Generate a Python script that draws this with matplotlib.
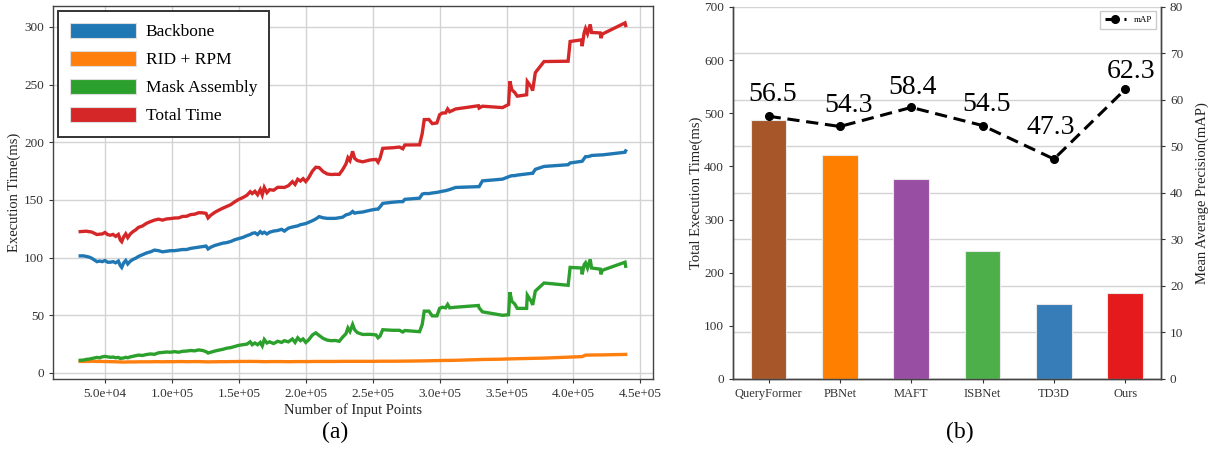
import numpy as np
import matplotlib
matplotlib.use("Agg")
import matplotlib.pyplot as plt
from matplotlib.patches import Patch
from matplotlib.ticker import FuncFormatter, MultipleLocator

plt.rcParams["font.family"] = ["Liberation Serif", "DejaVu Serif"]
plt.rcParams["mathtext.fontset"] = "stix"

# ---------------- (a) per-stage execution time vs. input size ----------------
# number of input points, in thousands
points_k = [
    31.5, 34, 36, 38, 40, 42, 44, 46, 48, 50,
    52, 54, 56, 58, 60, 61.5, 62.5, 64, 65.5, 67,
    69, 71, 73, 75, 78, 81, 84, 87, 90, 93,
    96, 99, 102, 105, 108, 111, 114, 117, 120, 123,
    125.5, 127, 129, 132, 135, 138, 141, 144, 147, 150,
    153, 156, 158.5, 160, 162, 164, 166, 167.5, 169, 171,
    173, 176, 179, 182, 184, 187, 190, 192, 194, 196,
    198, 200, 202, 205, 207.5, 210, 213, 216, 219, 222,
    225, 227.5, 230, 231.5, 233, 235, 236.5, 238.5, 242.5, 248,
    252.5, 254, 255.5, 257.5, 265, 270, 272.5, 274, 285, 287,
    288.5, 292, 294.5, 298, 300, 302, 304.5, 306, 307.5, 312,
    329, 329.5, 332, 347, 351.5, 352.5, 354, 356, 358, 365,
    365.5, 368.5, 369.5, 371.5, 378, 396, 397.5, 406, 406.5, 408,
    409, 410.5, 412.5, 413.5, 420, 420.5, 421.5, 438.5, 439,
]

backbone_ms = [
    101.5, 101.5, 101, 100.5, 99.5, 98, 96.5, 97, 96.5, 97.5,
    96, 96, 96.5, 95.5, 97, 93, 91.5, 95.5, 97.5, 94.5,
    97, 98.5, 99.5, 101, 102.5, 104, 105, 106.5, 106, 105,
    105.5, 106, 106, 106.5, 107, 107, 108, 108.5, 109, 109.5,
    110, 107.5, 109, 110.5, 111.5, 112.5, 113, 114, 115.5, 116.5,
    117.5, 119, 120, 121, 121.5, 120, 122.5, 121, 122, 120.5,
    122, 123, 123.5, 124.5, 123, 125.5, 126.5, 127, 127.5, 128.5,
    129, 129.5, 130.5, 132, 133.5, 135.5, 134.5, 134, 134, 134,
    134.5, 135, 137, 137.5, 138, 140, 138.5, 139, 139.5, 141,
    142, 142, 144, 147, 148, 148.5, 148.5, 150.5, 151.5, 155,
    155.5, 155.5, 156, 156.5, 157, 157.5, 158, 158.5, 159, 160.8,
    161.5, 161.5, 166.5, 168, 170, 170.5, 171, 171, 171.5, 172.5,
    172.5, 173, 173, 176.5, 179, 180.5, 182, 183.5, 183.5, 186,
    187.5, 187.5, 188, 188.5, 189, 189, 189, 191.3, 192.5,
]

rid_rpm_ms = [
    10.0, 10.0, 10.1, 10.0, 10.2, 10.1, 10.0, 10.1, 10.0, 9.9,
    9.9, 9.8, 9.8, 9.7, 9.6, 9.6, 9.5, 9.5, 9.5, 9.6,
    9.6, 9.6, 9.6, 9.7, 9.7, 9.7, 9.7, 9.8, 9.8, 9.7,
    9.8, 9.8, 9.8, 9.9, 9.9, 9.8, 9.8, 9.9, 9.9, 9.8,
    9.8, 9.6, 9.7, 9.7, 9.8, 9.8, 9.8, 9.9, 9.9, 10.0,
    10.0, 10.0, 10.1, 10.0, 10.0, 10.0, 9.9, 9.8, 9.8, 9.8,
    9.9, 9.9, 9.9, 9.9, 9.8, 9.8, 9.8, 9.9, 9.9, 9.9,
    9.9, 9.9, 9.9, 10.0, 10.0, 10.0, 10.0, 10.0, 10.0, 10.0,
    10.1, 10.1, 10.1, 10.1, 10.1, 10.1, 10.1, 10.1, 10.1, 10.1,
    10.1, 10.2, 10.2, 10.2, 10.2, 10.3, 10.3, 10.3, 10.4, 10.5,
    10.5, 10.6, 10.6, 10.7, 10.8, 10.8, 10.9, 10.9, 10.9, 11.0,
    11.6, 11.6, 11.7, 12.0, 12.2, 12.3, 12.3, 12.3, 12.4, 12.6,
    12.6, 12.7, 12.7, 12.8, 12.9, 13.7, 13.8, 14.2, 14.2, 15.0,
    15.5, 15.5, 15.6, 15.6, 15.7, 15.7, 15.7, 16.1, 16.1,
]

mask_assembly_ms = [
    11.0, 11.2, 11.8, 12.0, 12.5, 13.0, 13.5, 13.2, 14.0, 14.4,
    14.0, 13.6, 13.8, 13.2, 13.5, 12.5, 12.8, 13.0, 13.6, 13.2,
    14.0, 14.5, 15.0, 15.5, 15.2, 16.0, 16.5, 16.2, 17.5, 17.8,
    18.2, 18.0, 18.5, 18.0, 18.8, 19.0, 19.5, 19.2, 20.0, 19.5,
    18.5, 17.3, 18.0, 19.0, 19.8, 20.5, 21.5, 22.0, 23.0, 24.0,
    24.5, 25.0, 27.0, 24.5, 26.0, 24.5, 26.5, 23.5, 29.0, 26.0,
    27.0, 25.5, 27.5, 26.5, 28.0, 27.0, 29.5, 26.5, 30.5, 28.0,
    29.5, 26.5, 28.5, 33.0, 34.8, 32.5, 30.0, 28.5, 28.0, 28.2,
    27.5, 31.0, 34.0, 39.0, 36.0, 42.0, 37.5, 35.0, 33.4, 33.5,
    33.0, 30.5, 32.0, 37.5, 37.0, 37.0, 35.5, 36.8, 35.8, 42.0,
    53.6, 53.6, 49.5, 49.5, 56.0, 57.0, 56.5, 59.4, 56.5, 57.0,
    58.5, 56.5, 53.0, 50.0, 50.5, 70.0, 62.0, 60.0, 56.0, 56.0,
    67.5, 62.0, 59.0, 71.0, 78.0, 76.0, 91.5, 91.0, 85.5, 94.0,
    95.5, 91.0, 98.5, 91.0, 90.0, 85.5, 89.0, 96.0, 92.5,
]

stage_names = ["Backbone", "RID + RPM", "Mask Assembly", "Total Time"]
stage_colors = ["#1f77b4", "#ff7f0e", "#2ca02c", "#d62728"]

# ---------------- (b) comparison with other methods ----------------
methods = ["QueryFormer", "PBNet", "MAFT", "ISBNet", "TD3D", "Ours"]
total_time_ms = [487, 421, 377, 240, 141, 161]
map_scores = [56.5, 54.3, 58.4, 54.5, 47.3, 62.3]
method_colors = ["#a65628", "#ff7f00", "#984ea3", "#4daf4a", "#377eb8", "#e41a1c"]

# --------------------------------------------------------------------
x_pts = np.array(points_k) * 1000.0
backbone = np.array(backbone_ms)
rid = np.array(rid_rpm_ms)
mask = np.array(mask_assembly_ms)
total = backbone + rid + mask

fig = plt.figure(figsize=(12.2, 4.5), dpi=100)
fig.patch.set_facecolor("white")

ax1 = fig.add_axes([0.0434, 0.1578, 0.4918, 0.829])
grid_c = "#d3d3d3"
for series, color in zip([backbone, rid, mask, total], stage_colors):
    ax1.plot(x_pts, series, color=color, lw=2.4, solid_joinstyle="miter")
ax1.grid(True, color=grid_c, lw=1.0)
ax1.set_axisbelow(True)
ax1.xaxis.set_major_locator(MultipleLocator(5e4))
ax1.yaxis.set_major_locator(MultipleLocator(50))
ax1.xaxis.set_major_formatter(FuncFormatter(lambda v, p: "%.1e" % v))
ax1.tick_params(labelsize=9.5, colors="#333333", length=3, width=0.8)
ax1.set_xlabel("Number of Input Points", fontsize=10.5, color="#222222", labelpad=2)
ax1.set_ylabel("Execution Time(ms)", fontsize=10.5, color="#222222", labelpad=2)
for sp in ax1.spines.values():
    sp.set_color("#444444")
    sp.set_linewidth(1.0)
handles = [Patch(facecolor=c, edgecolor="#dddddd", lw=0.8) for c in stage_colors]
leg = ax1.legend(handles, stage_names, loc="upper left", fontsize=12.5,
                 handlelength=3.8, handleheight=0.9, labelspacing=0.62,
                 borderpad=0.7, borderaxespad=0.3, fancybox=False, framealpha=1,
                 handletextpad=0.55)
leg.get_frame().set_edgecolor("#333333")
leg.get_frame().set_linewidth(1.4)

# ---- (b) bars with mAP on a twin axis ----
ax2 = fig.add_axes([0.6008, 0.1578, 0.3508, 0.8267])
idx = np.arange(len(methods))
time_top = 700
map_top = 80
ax2.bar(idx, total_time_ms, width=0.5, color=method_colors,
        edgecolor="#e8e8e8", lw=0.8, zorder=3)
ax2.set_xlim(-0.5, len(methods) - 0.5)
ax2.set_ylim(0, time_top)
ax2.yaxis.set_major_locator(MultipleLocator(100))
ax2.set_xticks(idx)
ax2.set_xticklabels(methods)
ax2.tick_params(labelsize=9.5, colors="#333333", length=3, width=0.8)
ax2.tick_params(axis="x", labelsize=9)
ax2.set_ylabel("Total Execution Time(ms)", fontsize=10.5, color="#222222", labelpad=1)
ax2.spines["top"].set_visible(False)

ax3 = ax2.twinx()
ax3.set_ylim(0, map_top)
ax3.yaxis.set_major_locator(MultipleLocator(10))
# horizontal grid follows the mAP ticks but sits beneath the bars
for t in ax3.get_yticks()[1:-1]:
    ax2.axhline(t * time_top / map_top, color=grid_c, lw=1.0, zorder=0)
ax3.plot(idx, map_scores, color="black", ls="--", lw=2.2, marker="o",
         markersize=5.5, dashes=(4, 2.2), label="mAP", zorder=5)
ax3.tick_params(labelsize=9.5, colors="#333333", length=3, width=0.8)
ax3.set_ylabel("Mean Average Precision(mAP)", fontsize=10.5, color="#222222", labelpad=9)
ax3.spines["top"].set_visible(False)
for sp in list(ax2.spines.values()) + list(ax3.spines.values()):
    sp.set_color("#444444")
    sp.set_linewidth(1.0)

label_lift = [16, 15, 14, 15, 23, 13]
label_shift = [3, 6, 1, 3, -2, 4]
for i, v in enumerate(map_scores):
    ax3.annotate(f"{v}", (idx[i], v), xytext=(label_shift[i], label_lift[i]),
                 textcoords="offset points", ha="center", va="center",
                 fontsize=20, color="black", zorder=6)

ax2.set_zorder(1)
ax3.set_zorder(2)
ax3.patch.set_visible(False)

leg2 = ax3.legend(loc="upper right", fontsize=6.5, handlelength=2.4,
                  fancybox=False, framealpha=1, borderpad=0.5)
leg2.get_frame().set_edgecolor("#cccccc")

fig.text(0.2746, 0.038, "(a)", ha="center", va="center", fontsize=17)
fig.text(0.7869, 0.038, "(b)", ha="center", va="center", fontsize=17)

fig.savefig("out.png", dpi=100, facecolor="white")
